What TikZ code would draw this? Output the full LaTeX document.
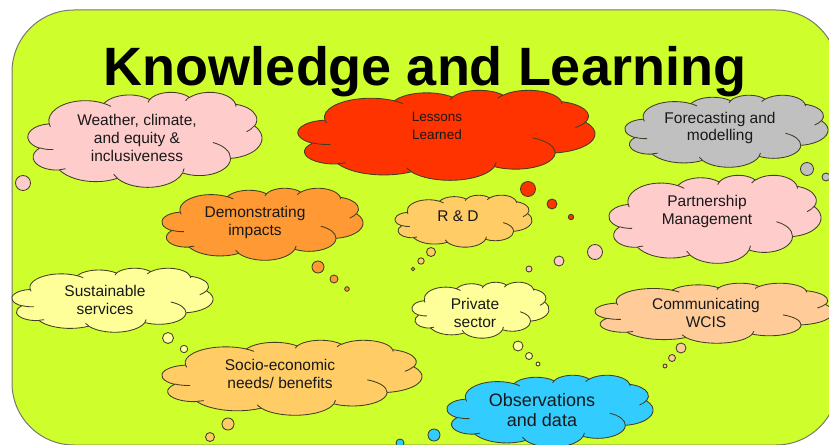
\documentclass[tikz,border=0pt]{standalone}
\usepackage{fontspec}
\setmainfont{Liberation Sans}

\definecolor{panelgreen}{RGB}{206,255,44}
\definecolor{panelline}{RGB}{120,120,110}
\definecolor{cloudedge}{RGB}{66,62,36}
\definecolor{textdark}{RGB}{24,24,24}
\definecolor{cpink}{RGB}{255,204,204}
\definecolor{cred}{RGB}{255,51,0}
\definecolor{cgrey}{RGB}{192,192,192}
\definecolor{corange}{RGB}{255,153,51}
\definecolor{capricot}{RGB}{255,204,102}
\definecolor{cyellow}{RGB}{255,255,153}
\definecolor{cpeach}{RGB}{255,204,153}
\definecolor{ccyan}{RGB}{51,204,255}

% Elliptical arc whose start and sweep are given as visual (not parametric) angles,
% arguments: x radius, y radius, start angle, sweep angle.
\newcommand\earc[4]{arc[start angle={atan2((#1)*sin(#3),(#2)*cos(#3))},
  delta angle={mod(atan2((#1)*sin((#3)+(#4)),(#2)*cos((#3)+(#4)))-atan2((#1)*sin(#3),(#2)*cos(#3))+720,360)},
  x radius=#1, y radius=#2]}

% Cloud outline in a 100 x 100 box (y pointing down)
\newcommand\cloudoutline{(9.028,33.264)
  \earc{15.632}{21.273}{-190.4875}{123.7805}
  \earc{12.345}{16.822}{-144.1024}{89.9452}
  \earc{10.104}{13.762}{-145.8079}{99.7230}
  \earc{11.243}{15.266}{-130.9861}{117.2417}
  \earc{12.345}{16.836}{-78.7089}{109.0269}
  \earc{15.683}{21.343}{-46.2673}{130.2690}
  \earc{13.391}{18.211}{0.6250}{114.0333}
  \earc{15.630}{21.331}{22.4516}{115.1726}
  \earc{17.870}{24.405}{66.2426}{75.7110}
  \earc{10.093}{13.699}{-274.9421}{146.7356}
  \earc{10.058}{13.762}{-246.8285}{152.5189} -- cycle}

% Inner crease strokes of the cloud
\newcommand\cloudcreases{%
  (10.863,60.595) \earc{10.058}{13.762}{86.7420}{26.4295}
  (16.037,80.785) \earc{10.093}{13.699}{73.6105}{11.4475}
  (38.144,90.486) \earc{15.630}{21.331}{137.6242}{14.0811}
  (66.729,80.442) \earc{15.630}{21.331}{6.4533}{15.9984}
  (79.002,53.134) \earc{13.391}{18.211}{-70.2924}{70.9174}
  (96.755,35.542) \earc{12.345}{16.836}{30.3180}{27.7515}
  (88.713,12.560) \earc{11.243}{15.266}{-13.7443}{14.8589}
  (67.310,9.148) \earc{11.243}{15.266}{-149.1815}{18.1954}
  (51.252,10.926) \earc{10.104}{13.762}{-163.4943}{17.6864}
  (32.407,12.019) \earc{15.632}{21.273}{-66.7070}{12.3194}
  (9.553,36.549) \earc{15.632}{21.273}{157.6544}{11.8582}}

% Cloud drawn into the box with top-left corner (#1,#2), size #3 x #4, fill #5
\newcommand\thoughtcloud[5]{%
  \pgfmathsetmacro\cloudsx{#3/100}%
  \pgfmathsetmacro\cloudsy{-#4/100}%
  \begin{scope}[shift={(#1,#2)}, x=\cloudsx pt, y=\cloudsy pt]
    \filldraw[cloudline, fill=#5] \cloudoutline;
    \draw[cloudline] \cloudcreases;
  \end{scope}}

\begin{document}
\begin{tikzpicture}[x=1pt, y=-1pt,
  cloudline/.style={draw=cloudedge, line width=0.85pt, line join=round},
  bubble/.style={draw=cloudedge, line width=0.85pt},
  label/.style={text=textdark, align=center, font=\fontsize{15.5}{18}\selectfont, inner sep=0pt},
  title/.style={text=black, font=\fontsize{54}{60}\selectfont\bfseries, inner sep=0pt}]

\useasboundingbox (0,0) rectangle (829,444);
\clip (0,0) rectangle (829,444);

% Panel
\filldraw[fill=panelgreen, draw=panelline, line width=1pt, rounded corners=62pt]
  (12,10) rectangle (838,445);

% Title
\node[title, anchor=base] (heading) at (425,85) {Knowledge and Learning};

% Clouds
\thoughtcloud{28}{92}{234}{95}{cpink}
\thoughtcloud{298}{90}{297}{90}{cred}
\thoughtcloud{625}{95}{203}{72}{cgrey}
\thoughtcloud{609}{175}{212}{88}{cpink}
\thoughtcloud{162}{188}{201}{72}{corange}
\thoughtcloud{395}{195}{137}{52}{capricot}
\thoughtcloud{12}{268}{201}{64}{cyellow}
\thoughtcloud{412}{282}{137}{56}{cyellow}
\thoughtcloud{595}{283}{238}{60}{cpeach}
\thoughtcloud{162}{340}{260}{75}{capricot}
\thoughtcloud{447}{375}{206}{72}{ccyan}

% Thought bubbles
\filldraw[bubble, fill=cpink] (23,183) circle[radius=7.5];
\filldraw[bubble, fill=cred] (528,189) circle[radius=7.5];
\filldraw[bubble, fill=cred] (552,204) circle[radius=5];
\filldraw[bubble, fill=cred] (571,217) circle[radius=2.7];
\filldraw[bubble, fill=cgrey] (807,169) circle[radius=6.5];
\filldraw[bubble, fill=cgrey] (826,177) circle[radius=4];
\filldraw[bubble, fill=cpink] (595,252) circle[radius=7.5];
\filldraw[bubble, fill=cpink] (559,261) circle[radius=5];
\filldraw[bubble, fill=cpink] (529,269) circle[radius=3];
\filldraw[bubble, fill=corange] (318,267) circle[radius=6];
\filldraw[bubble, fill=corange] (334,279) circle[radius=4];
\filldraw[bubble, fill=corange] (347,289) circle[radius=2.3];
\filldraw[bubble, fill=capricot] (431,252) circle[radius=4.5];
\filldraw[bubble, fill=capricot] (421,261) circle[radius=3.2];
\filldraw[bubble, fill=capricot] (413,269) circle[radius=1.7];
\filldraw[bubble, fill=cyellow] (168,338) circle[radius=5.5];
\filldraw[bubble, fill=cyellow] (184,349) circle[radius=3.7];
\filldraw[bubble, fill=cyellow] (518,346) circle[radius=5];
\filldraw[bubble, fill=cyellow] (529,356) circle[radius=3.5];
\filldraw[bubble, fill=cyellow] (538,364) circle[radius=2];
\filldraw[bubble, fill=cpeach] (681,348) circle[radius=5];
\filldraw[bubble, fill=cpeach] (672,358) circle[radius=3.5];
\filldraw[bubble, fill=cpeach] (665,366) circle[radius=2];
\filldraw[bubble, fill=capricot] (228,424) circle[radius=6];
\filldraw[bubble, fill=capricot] (210,437) circle[radius=4.5];
\filldraw[bubble, fill=ccyan] (434,435) circle[radius=6];
\filldraw[bubble, fill=ccyan] (400,443) circle[radius=4];

% Labels
\node[label] (weather) at (137,138) {Weather, climate,\\and equity \&\\inclusiveness};
\node[label, font=\fontsize{13.5}{18}\selectfont] (lessons) at (437,126) {Lessons\\Learned};
\node[label, font=\fontsize{15.5}{17}\selectfont] (forecast) at (720,128) {Forecasting and\\modelling};
\node[label] (partner) at (707,211) {Partnership\\Management};
\node[label] (demo) at (255,222) {Demonstrating\\impacts};
\node[label] (rnd) at (458,216) {R \& D};
\node[label] (sustain) at (105,300) {Sustainable\\services};
\node[label] (private) at (475,313) {Private\\sector};
\node[label] (commun) at (706,313) {Communicating\\WCIS};
\node[label] (socio) at (280,374) {Socio-economic\\needs/ benefits};
\node[label, font=\fontsize{18}{20.5}\selectfont] (observ) at (542,410) {Observations\\and data};

\end{tikzpicture}
\end{document}
